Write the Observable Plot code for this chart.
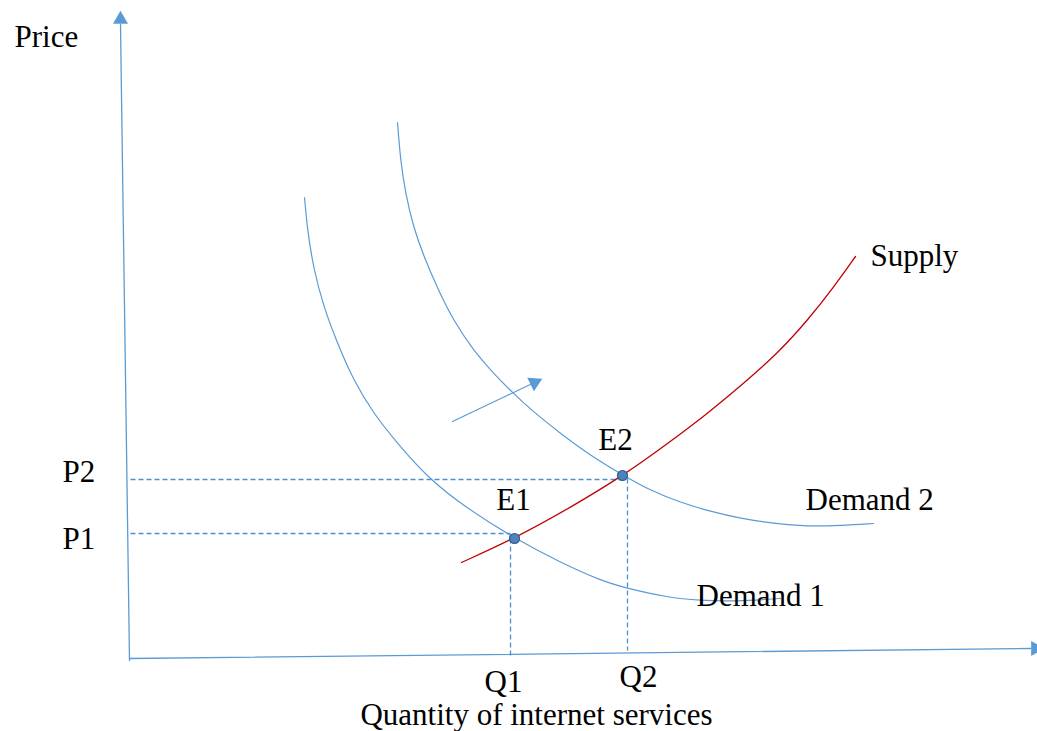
<!DOCTYPE html>
<html>
<head>
<meta charset="utf-8">
<script src="https://cdn.jsdelivr.net/npm/d3@7"></script>
<script src="https://cdn.jsdelivr.net/npm/@observablehq/plot@0.6"></script>
<style>
  html, body { margin: 0; padding: 0; background: #fff; overflow: hidden; }
</style>
</head>
<body>
<div id="chart"></div>
<script>
// Quantity (x) and price (y) values (chart units)
const demand1Q = [304, 307, 313, 323, 337, 353, 373, 397, 428, 465, 514, 560, 600, 627, 667, 700, 733, 780];
const demand1P = [534, 501, 463, 425, 388, 351, 318, 288, 253, 224, 193, 169, 151, 143, 134, 131, 130, 133];

const demand2Q = [397, 400, 405, 413, 423, 438, 453, 473, 493, 512, 530, 560, 590, 623, 650, 680, 710, 740, 773, 807, 840, 873];
const demand2P = [609, 571, 538, 504, 476, 441, 411, 381, 358, 339, 322, 298, 276, 256, 241, 229, 220, 213, 208, 205, 206, 208];

const supplyQ = [461, 514, 570, 623, 670, 707, 743, 777, 807, 833, 855];
const supplyP = [169, 193, 224, 256, 290, 318, 348, 378, 411, 444, 475];

// Equilibria
const eqNames = ["E1", "E2"];
const eqQ = [514, 622];
const eqP = [193, 256];

// Guide levels
const priceLevels = ["P1", "P2"];
const priceValues = [198, 252];
const priceGuideEnd = [510, 622];
const qtyLevels = ["Q1", "Q2"];
const qtyValues = [510, 627];
const qtyGuideTop = [193, 253];
const qtyGuideBottom = [73, 81];

// Axes (slightly tilted, as in the drawing)
const yAxisQ = [129, 120];
const yAxisP = [71, 707];
const xAxisQ = [129, 1030];
const xAxisP = [73, 83];

// Shift arrow
const shiftQ = [452, 534];
const shiftP = [310, 349];

const blue = "#5b9bd5";
const red = "#c00000";
const font = "Liberation Serif, Times New Roman, serif";

const toPts = (qs, ps) => qs.map((q, i) => ({q, p: ps[i]}));

const d1 = toPts(demand1Q, demand1P);
const d2 = toPts(demand2Q, demand2P);
const sup = toPts(supplyQ, supplyP);
const eq = eqNames.map((n, i) => ({name: n, q: eqQ[i], p: eqP[i]}));
const pGuides = priceLevels.map((n, i) => ({name: n, p: priceValues[i], q2: priceGuideEnd[i]}));
const qGuides = qtyLevels.map((n, i) => ({name: n, q: qtyValues[i], p1: qtyGuideTop[i], p2: qtyGuideBottom[i]}));

const labels = [
  {text: "Price", q: 14, p: 694, anchor: "start"},
  {text: "Supply", q: 870, p: 475, anchor: "start"},
  {text: "Demand 2", q: 805, p: 231, anchor: "start"},
  {text: "Demand 1", q: 696, p: 135, anchor: "start"},
  {text: "E2", q: 615, p: 291, anchor: "middle"},
  {text: "E1", q: 513, p: 231, anchor: "middle"},
  {text: "P2", q: 62, p: 259, anchor: "start"},
  {text: "P1", q: 62, p: 192, anchor: "start"},
  {text: "Q1", q: 503, p: 49, anchor: "middle"},
  {text: "Q2", q: 638, p: 54, anchor: "middle"},
  {text: "Quantity of internet services", q: 536, p: 16, anchor: "middle"}
];

const chart = Plot.plot({
  width: 1037,
  height: 731,
  margin: 0,
  x: {domain: [0, 1037], axis: null},
  y: {domain: [0, 731], axis: null},
  style: {background: "#fff", overflow: "hidden"},
  marks: [
    // axes
    Plot.line(toPts(yAxisQ, yAxisP), {x: "q", y: "p", stroke: blue, strokeWidth: 1.3}),
    Plot.line(toPts(xAxisQ, xAxisP), {x: "q", y: "p", stroke: blue, strokeWidth: 1.3}),
    Plot.dot([{q: 120, p: 712}], {x: "q", y: "p", symbol: "triangle", r: 5.6, fill: blue, stroke: "none"}),
    Plot.dot([{q: 1035, p: 83}], {x: "q", y: "p", symbol: "triangle", r: 5.6, fill: blue, stroke: "none", rotate: 90}),
    // dashed guides
    Plot.link(pGuides, {x1: 130, x2: "q2", y1: "p", y2: "p", stroke: "#4f8fd0", strokeWidth: 1.3, strokeDasharray: "5,3"}),
    Plot.link(qGuides, {x1: "q", x2: "q", y1: "p1", y2: "p2", stroke: "#4f8fd0", strokeWidth: 1.3, strokeDasharray: "5,3"}),
    // curves
    Plot.line(d1, {x: "q", y: "p", curve: "basis", stroke: blue, strokeWidth: 1.2}),
    Plot.line(d2, {x: "q", y: "p", curve: "basis", stroke: blue, strokeWidth: 1.2}),
    Plot.line(sup, {x: "q", y: "p", curve: "basis", stroke: red, strokeWidth: 1.3}),
    // shift arrow
    Plot.line(toPts(shiftQ, shiftP), {x: "q", y: "p", stroke: blue, strokeWidth: 1.3}),
    Plot.dot([{q: 534, p: 349}], {x: "q", y: "p", symbol: "triangle", r: 5.6, fill: blue, stroke: "none", rotate: 64}),
    // equilibrium points
    Plot.dot(eq, {x: "q", y: "p", r: 5, fill: "#4f81bd", stroke: "#2f5d8e", strokeWidth: 1.2}),
    // labels
    Plot.text(labels.filter(d => d.anchor === "start"), {x: "q", y: "p", text: "text", textAnchor: "start", fontFamily: font, fontSize: 31, fill: "#000"}),
    Plot.text(labels.filter(d => d.anchor === "middle"), {x: "q", y: "p", text: "text", textAnchor: "middle", fontFamily: font, fontSize: 31, fill: "#000"})
  ]
});

document.getElementById("chart").appendChild(chart);
</script>
</body>
</html>
